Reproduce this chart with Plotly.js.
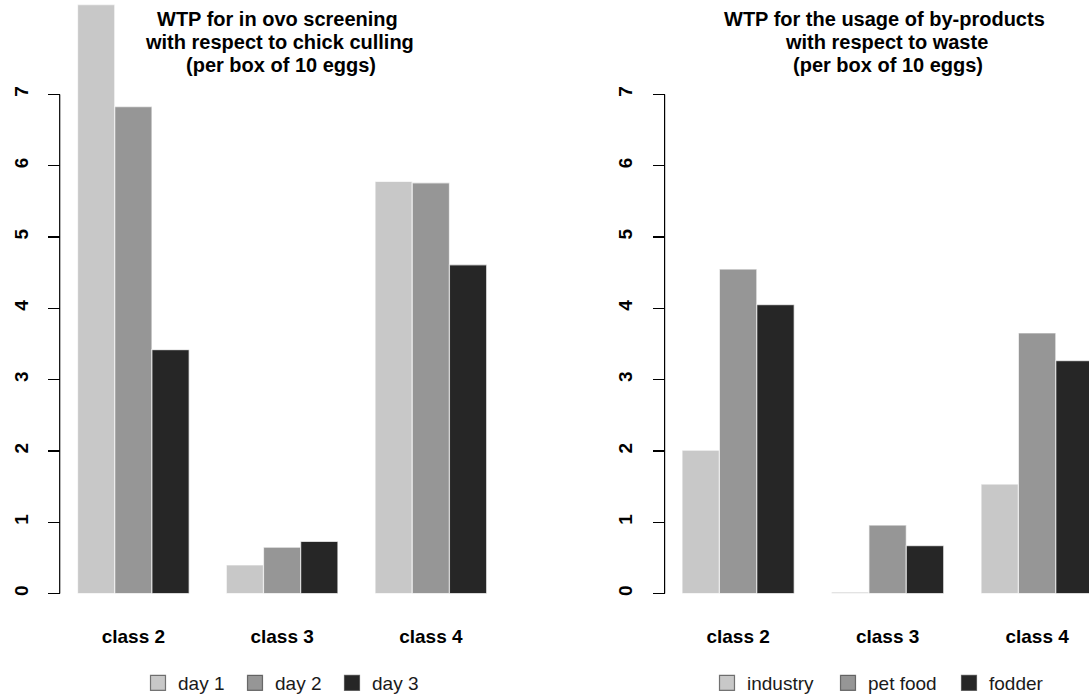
<!DOCTYPE html>
<html>
<head>
<meta charset="utf-8">
<script src="https://cdn.plot.ly/plotly-3.0.1.min.js"></script>
<style>
  html, body { margin: 0; padding: 0; background: #ffffff; }
  #chart { width: 1089px; height: 696px; }
</style>
</head>
<body>
<div id="chart"></div>
<script>
// ---- data ----
const categories = ['class 2', 'class 3', 'class 4'];

// left panel: WTP for in ovo screening (per box of 10 eggs)
const leftNames = ['day 1', 'day 2', 'day 3'];
const day1 = [8.26, 0.40, 5.78];
const day2 = [6.83, 0.65, 5.76];
const day3 = [3.42, 0.73, 4.61];

// right panel: WTP for the usage of by-products (per box of 10 eggs)
const rightNames = ['industry', 'pet food', 'fodder'];
const industry = [2.01, 0.02, 1.535];
const petFood = [4.55, 0.96, 3.655];
const fodder = [4.05, 0.67, 3.265];

const yTicks = [0, 1, 2, 3, 4, 5, 6, 7];
const leftTitle = ['WTP for in ovo screening', 'with respect to chick culling', '(per box of 10 eggs)'];
const rightTitle = ['WTP for the usage of by-products', 'with respect to waste', '(per box of 10 eggs)'];

// ---- styling ----
const fills = ['#c8c8c8', '#969696', '#262626'];
const W = 1089, H = 696;
const FONT = 'Liberation Sans, Arial, sans-serif';

function bar(name, values, i, xa, ya, lg) {
  return {
    type: 'bar', name: name, x: categories, y: values,
    xaxis: xa, yaxis: ya, legend: lg,
    marker: { color: fills[i], line: { color: 'rgba(255,255,255,0.65)', width: 1.2 } },
    hoverinfo: 'x+y+name'
  };
}

const traces = [
  bar(leftNames[0], day1, 0, 'x', 'y', 'legend'),
  bar(leftNames[1], day2, 1, 'x', 'y', 'legend'),
  bar(leftNames[2], day3, 2, 'x', 'y', 'legend'),
  bar(rightNames[0], industry, 0, 'x2', 'y2', 'legend2'),
  bar(rightNames[1], petFood, 1, 'x2', 'y2', 'legend2'),
  bar(rightNames[2], fodder, 2, 'x2', 'y2', 'legend2')
];

const yDomain = [(H - 613.5) / H, 1];
const yRange = [-0.28, 593.5 / 71.3];

function yAxis(anchor) {
  return {
    anchor: anchor, domain: yDomain, range: yRange,
    tickmode: 'array', tickvals: yTicks, ticktext: yTicks.map(String),
    ticks: 'outside', ticklen: 12, tickwidth: 1.2, tickcolor: '#000',
    tickangle: -90, ticklabelstandoff: 13,
    tickfont: { family: FONT, size: 19, weight: 'bold', color: '#000' },
    showline: false, showgrid: false, zeroline: false, automargin: false, fixedrange: true
  };
}
function xAxis(anchor, domain, range) {
  return {
    anchor: anchor, domain: domain, range: range, type: 'category',
    ticks: '', showline: false, showgrid: false, zeroline: false,
    ticklabelstandoff: 9,
    tickfont: { family: FONT, size: 19, weight: 'bold', color: '#000' },
    automargin: false, fixedrange: true
  };
}

const xLeftDomain = [61.2 / W, 503 / W];
const xRightDomain = [665.6 / W, 1];

const annotations = [];
[[leftTitle, [277.5, 279.5, 281]], [rightTitle, [884, 886, 887.5]]].forEach(([lines, cxs]) => {
  [19, 42.3, 65].forEach((py, k) => {
    annotations.push({
      xref: 'paper', yref: 'paper', x: cxs[k] / W, y: (H - py) / H,
      xanchor: 'center', yanchor: 'middle', showarrow: false,
      text: lines[k],
      font: { family: FONT, size: 20, weight: 'bold', color: '#000' }
    });
  });
});

const shapes = [
  { type: 'line', xref: 'paper', yref: 'y', x0: xLeftDomain[0] - 1.5 / W, x1: xLeftDomain[0] - 1.5 / W,
    y0: yTicks[0], y1: yTicks[yTicks.length - 1], line: { color: '#000', width: 1.2 } },
  { type: 'line', xref: 'paper', yref: 'y2', x0: xRightDomain[0] - 1 / W, x1: xRightDomain[0] - 1 / W,
    y0: yTicks[0], y1: yTicks[yTicks.length - 1], line: { color: '#000', width: 1.2 } }
];

function legendBox(xpx, ew) {
  return {
    orientation: 'h', x: xpx / W, xanchor: 'left', y: (H - 683) / H, yanchor: 'middle',
    bgcolor: 'rgba(0,0,0,0)', borderwidth: 0,
    entrywidth: ew, entrywidthmode: 'pixels',
    font: { family: FONT, size: 19, color: '#1a1a1a' },
    traceorder: 'normal'
  };
}

const layout = {
  width: W, height: H,
  margin: { l: 0, r: 0, t: 0, b: 0, pad: 0, autoexpand: false },
  paper_bgcolor: '#ffffff', plot_bgcolor: 'rgba(0,0,0,0)',
  barmode: 'group', bargap: 0.25, bargroupgap: 0,
  showlegend: true,
  xaxis: xAxis('y', xLeftDomain, [-0.485, 2.485]),
  yaxis: yAxis('x'),
  xaxis2: xAxis('y2', xRightDomain, [-0.485, 2.347]),
  yaxis2: yAxis('x2'),
  legend: legendBox(138, 52),
  legend2: legendBox(707, 76),
  annotations: annotations,
  shapes: shapes,
  font: { family: FONT }
};

Plotly.newPlot('chart', traces, layout, { displayModeBar: false, staticPlot: true }).then(() => {
  document.querySelectorAll('.legendpoints path').forEach(p => {
    p.setAttribute('d', 'M7.5,7.5H-7.5V-7.5H7.5Z');
    p.style.stroke = '#333333';
    p.style.strokeWidth = '1.2px';
  });
});
</script>
</body>
</html>
